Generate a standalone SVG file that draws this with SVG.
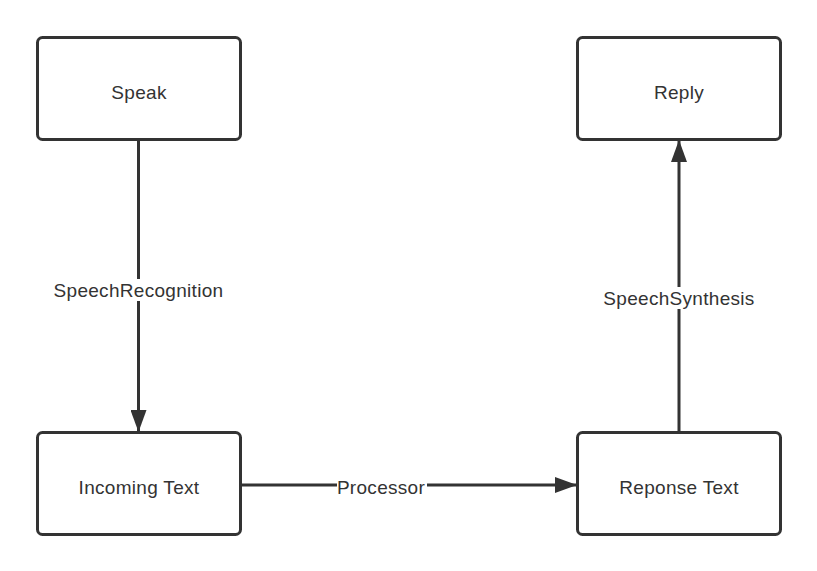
<svg xmlns="http://www.w3.org/2000/svg" width="817" height="571" viewBox="0 0 817 571">
<style>
.box{fill:#fff;stroke:#333;stroke-width:3}
.lbl{font-family:"Liberation Sans",Arial,sans-serif;font-size:19px;letter-spacing:0.3px;fill:#333;text-anchor:middle;dominant-baseline:central}
.edge{stroke:#333;stroke-width:3;fill:none}
</style>
<defs>
<marker id="ah" markerUnits="userSpaceOnUse" markerWidth="24" markerHeight="16" refX="22" refY="8" orient="auto">
<path d="M0,0 L22,8 L0,16 Z" fill="#333"/>
</marker>
</defs>
<rect width="817" height="571" fill="#fff"/>
<g id="connectors">
<g id="e1"><line class="edge" x1="138.5" y1="140" x2="138.5" y2="432" marker-end="url(#ah)"/>
<rect x="52" y="279" width="173" height="22" fill="#fff"/><text class="lbl" x="138.5" y="290">SpeechRecognition</text></g>
<g id="e2"><line class="edge" x1="240" y1="485" x2="577" y2="485" marker-end="url(#ah)"/>
<rect x="337" y="476" width="90" height="22" fill="#fff"/><text class="lbl" x="381" y="487">Processor</text></g>
<g id="e3"><line class="edge" x1="679" y1="432" x2="679" y2="140" marker-end="url(#ah)"/>
<rect x="598" y="287" width="153" height="22" fill="#fff"/><text class="lbl" x="679" y="298">SpeechSynthesis</text></g>
</g>
<g id="speak"><rect class="box" x="37.5" y="37.5" width="203" height="102" rx="5"/><text class="lbl" x="139" y="92">Speak</text></g>
<g id="reply"><rect class="box" x="577.5" y="37.5" width="203" height="102" rx="5"/><text class="lbl" x="679" y="92">Reply</text></g>
<g id="incoming"><rect class="box" x="37.5" y="432.5" width="203" height="102" rx="5"/><text class="lbl" x="139" y="487">Incoming Text</text></g>
<g id="response"><rect class="box" x="577.5" y="432.5" width="203" height="102" rx="5"/><text class="lbl" x="679" y="487">Reponse Text</text></g>
</svg>
